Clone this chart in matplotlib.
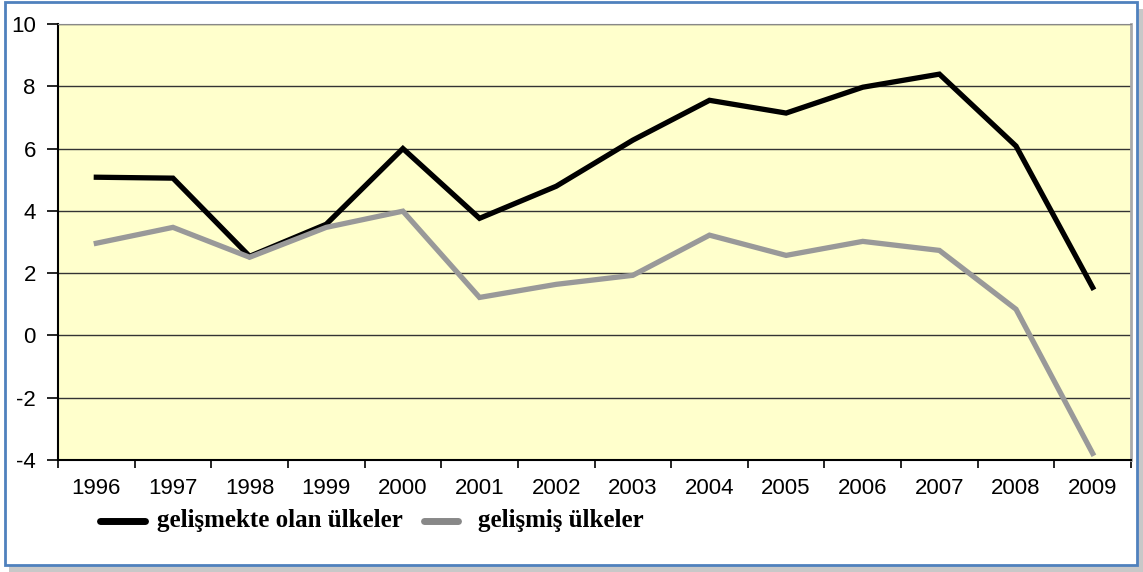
import matplotlib.pyplot as plt
from matplotlib.patches import Rectangle
import numpy as np

years = ['1996', '1997', '1998', '1999', '2000', '2001', '2002',
         '2003', '2004', '2005', '2006', '2007', '2008', '2009']
gelismekte = [5.08, 5.05, 2.54, 3.57, 6.0, 3.76, 4.79, 6.27, 7.55, 7.14, 7.97, 8.39, 6.08, 1.54]
gelismis = [2.96, 3.47, 2.51, 3.47, 3.99, 1.22, 1.64, 1.93, 3.22, 2.57, 3.02, 2.73, 0.84, -3.79]
yticks = [-4, -2, 0, 2, 4, 6, 8, 10]

fig = plt.figure(figsize=(11.43, 5.72), dpi=100)

# outer frame with soft shadow
fig.patches.append(Rectangle((0.008, 0.0), 0.992, 0.985, transform=fig.transFigure,
                             facecolor='#c8c8c8', edgecolor='none', zorder=-2))
fig.patches.append(Rectangle((0.004, 0.012), 0.991, 0.984, transform=fig.transFigure,
                             facecolor='white', edgecolor='#4f81bd', linewidth=2, zorder=-1))

ax = fig.add_axes([58/1143, 1 - 460/572, (1131-58)/1143, (460-24)/572])
ax.set_facecolor('#ffffcc')
x = np.arange(len(years))
ax.plot(x, gelismekte, color='black', linewidth=3.8, solid_joinstyle='miter', zorder=3)
ax.plot(x, gelismis, color='#999999', linewidth=3.8, solid_joinstyle='miter', zorder=3)

ax.set_xlim(-0.5, len(years) - 0.5)
ax.set_ylim(-4, 10)
ax.set_yticks(yticks)
ax.set_yticklabels([str(v) for v in yticks], fontsize=16, fontfamily='Liberation Sans')
ax.set_xticks(x)
ax.set_xticklabels(years, fontsize=16, fontfamily='Liberation Sans')
ax.set_xticks(np.arange(len(years) + 1) - 0.5, minor=True)
ax.tick_params(axis='x', which='major', length=0, pad=13)
ax.tick_params(axis='x', which='minor', length=6, width=1.2, direction='out')
ax.tick_params(axis='y', length=8, width=1.2, direction='out', pad=8)
for yv in yticks:
    ax.axhline(yv, color='#333333', linewidth=1.0, zorder=1)

ax.spines['left'].set_color('black')
ax.spines['left'].set_linewidth(1.5)
ax.spines['bottom'].set_color('black')
ax.spines['bottom'].set_linewidth(1.5)
ax.spines['top'].set_color('#888888')
ax.spines['right'].set_color('#aaaaaa')
ax.spines['right'].set_linewidth(2)

# legend below the axes
fig.lines.append(plt.Line2D([100/1143, 145/1143], [1 - 521/572] * 2, transform=fig.transFigure,
                            color='black', linewidth=5, solid_capstyle='round'))
fig.text(157/1143, 1 - 521/572, 'gelişmekte olan ülkeler', fontsize=18, fontweight='bold',
         fontfamily='Liberation Serif', va='center')
fig.lines.append(plt.Line2D([424/1143, 458/1143], [1 - 521/572] * 2, transform=fig.transFigure,
                            color='#888888', linewidth=5, solid_capstyle='round'))
fig.text(478/1143, 1 - 521/572, 'gelişmiş ülkeler', fontsize=18, fontweight='bold',
         fontfamily='Liberation Serif', va='center')

fig.savefig('out.png', dpi=100)
